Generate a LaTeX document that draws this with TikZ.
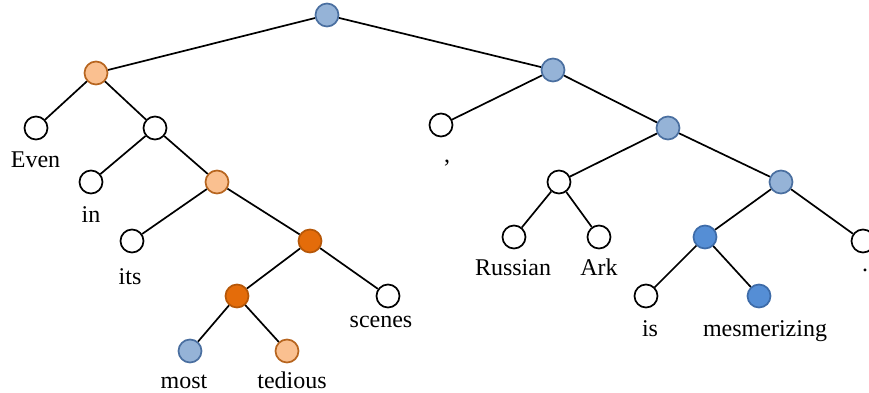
\documentclass[tikz,border=0pt]{standalone}
\usepackage{fontspec}
\setmainfont{Liberation Serif}
\definecolor{lblue}{HTML}{95B3D7}
\definecolor{lbluedraw}{HTML}{4A6FA0}
\definecolor{dblue}{HTML}{558ED5}
\definecolor{dbluedraw}{HTML}{3D6BA8}
\definecolor{lorange}{HTML}{FAC090}
\definecolor{lorangedraw}{HTML}{B7651F}
\definecolor{dorange}{HTML}{E46C0A}
\definecolor{dorangedraw}{HTML}{B65708}
\begin{document}
\begin{tikzpicture}[x=1pt,y=-1pt,
  tn/.style={circle,minimum size=23pt,inner sep=0pt,line width=1.7pt,draw=black,fill=white},
  nlb/.style={tn,fill=lblue,draw=lbluedraw},
  ndb/.style={tn,fill=dblue,draw=dbluedraw},
  nlo/.style={tn,fill=lorange,draw=lorangedraw},
  ndo/.style={tn,fill=dorange,draw=dorangedraw},
  word/.style={anchor=base,inner sep=0pt,font=\fontsize{24}{28}\selectfont},
  edge/.style={line width=1.7pt,black}]
\useasboundingbox (0,0) rectangle (869,393);
% nodes
\node[nlb] (root) at (327,15) {};
\node[nlo] (l1) at (96,73) {};
\node[tn] (even) at (36,128) {};
\node[tn] (n2) at (155,128) {};
\node[tn] (in) at (91,182) {};
\node[nlo] (n3) at (217,182) {};
\node[tn] (its) at (132,241) {};
\node[ndo] (n4) at (310,241) {};
\node[ndo] (n5) at (237,296) {};
\node[tn] (scenes) at (388,296) {};
\node[nlb] (most) at (190,351) {};
\node[nlo] (tedious) at (287,351) {};
\node[nlb] (r1) at (553,70) {};
\node[tn] (comma) at (441,125) {};
\node[nlb] (r2) at (668,128) {};
\node[tn] (ra) at (559,182) {};
\node[tn] (russian) at (514,237) {};
\node[tn] (ark) at (599,237) {};
\node[nlb] (r3) at (781,182) {};
\node[ndb] (r4) at (705,237) {};
\node[tn] (period) at (863,241) {};
\node[tn] (is) at (646,296) {};
\node[ndb] (mes) at (759,296) {};
% edges
\draw[edge] (root) -- (l1);
\draw[edge] (root) -- (r1);
\draw[edge] (l1) -- (even);
\draw[edge] (l1) -- (n2);
\draw[edge] (n2) -- (in);
\draw[edge] (n2) -- (n3);
\draw[edge] (n3) -- (its);
\draw[edge] (n3) -- (n4);
\draw[edge] (n4) -- (n5);
\draw[edge] (n4) -- (scenes);
\draw[edge] (n5) -- (most);
\draw[edge] (n5) -- (tedious);
\draw[edge] (r1) -- (comma);
\draw[edge] (r1) -- (r2);
\draw[edge] (r2) -- (ra);
\draw[edge] (r2) -- (r3);
\draw[edge] (ra) -- (russian);
\draw[edge] (ra) -- (ark);
\draw[edge] (r3) -- (r4);
\draw[edge] (r3) -- (period);
\draw[edge] (r4) -- (is);
\draw[edge] (r4) -- (mes);
% labels
\node[word] (tEven) at (35.5,167) {Even};
\node[word] (tIn) at (91,222) {in};
\node[word] (tIts) at (130,284) {its};
\node[word] (tScenes) at (381,327) {scenes};
\node[word] (tMost) at (184,388) {most};
\node[word] (tTedious) at (292,388) {tedious};
\node[word] (tComma) at (447,162) {,};
\node[word] (tRussian) at (513,275) {Russian};
\node[word] (tArk) at (599,275) {Ark};
\node[word] (tIs) at (650,336) {is};
\node[word] (tMes) at (765,336) {mesmerizing};
\node[word] (tPeriod) at (865,271) {.};
\end{tikzpicture}
\end{document}
